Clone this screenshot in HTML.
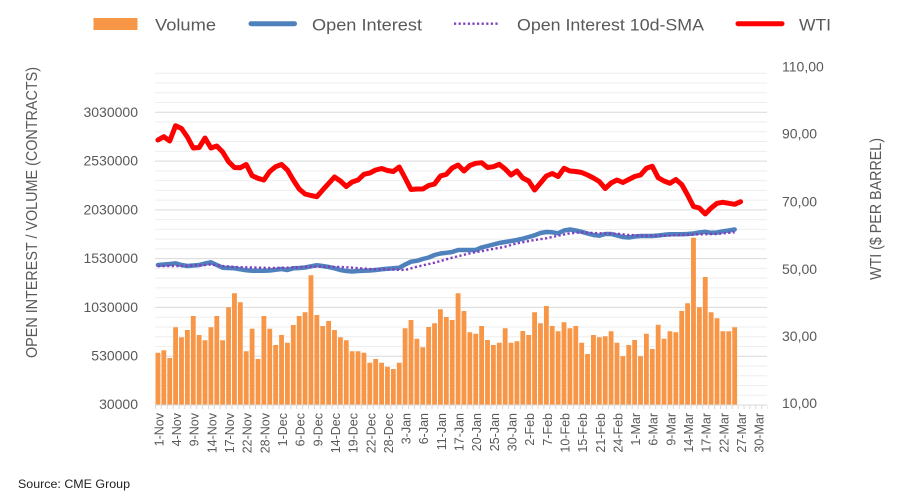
<!DOCTYPE html>
<html>
<head>
<meta charset="utf-8">
<style>
html,body{margin:0;padding:0;background:#fff;}
svg{display:block;font-family:"Liberation Sans",Arial,sans-serif;}
</style>
</head>
<body>
<svg width="906" height="500" viewBox="0 0 906 500" xmlns="http://www.w3.org/2000/svg">
<rect x="0" y="0" width="906" height="500" fill="#fff"/>

<!-- minor gridlines -->
<g stroke="#EEEEEE" stroke-width="1">
<line x1="155" x2="767" y1="395.24" y2="395.24"/>
<line x1="155" x2="767" y1="385.49" y2="385.49"/>
<line x1="155" x2="767" y1="375.73" y2="375.73"/>
<line x1="155" x2="767" y1="365.97" y2="365.97"/>
<line x1="155" x2="767" y1="346.46" y2="346.46"/>
<line x1="155" x2="767" y1="336.70" y2="336.70"/>
<line x1="155" x2="767" y1="326.94" y2="326.94"/>
<line x1="155" x2="767" y1="317.19" y2="317.19"/>
<line x1="155" x2="767" y1="297.67" y2="297.67"/>
<line x1="155" x2="767" y1="287.91" y2="287.91"/>
<line x1="155" x2="767" y1="278.16" y2="278.16"/>
<line x1="155" x2="767" y1="268.40" y2="268.40"/>
<line x1="155" x2="767" y1="248.89" y2="248.89"/>
<line x1="155" x2="767" y1="239.13" y2="239.13"/>
<line x1="155" x2="767" y1="229.37" y2="229.37"/>
<line x1="155" x2="767" y1="219.62" y2="219.62"/>
<line x1="155" x2="767" y1="200.10" y2="200.10"/>
<line x1="155" x2="767" y1="190.34" y2="190.34"/>
<line x1="155" x2="767" y1="180.59" y2="180.59"/>
<line x1="155" x2="767" y1="170.83" y2="170.83"/>
<line x1="155" x2="767" y1="151.32" y2="151.32"/>
<line x1="155" x2="767" y1="141.56" y2="141.56"/>
<line x1="155" x2="767" y1="131.80" y2="131.80"/>
<line x1="155" x2="767" y1="122.04" y2="122.04"/>
<line x1="155" x2="767" y1="102.53" y2="102.53"/>
<line x1="155" x2="767" y1="92.77" y2="92.77"/>
<line x1="155" x2="767" y1="83.02" y2="83.02"/>
<line x1="155" x2="767" y1="73.26" y2="73.26"/>
</g>
<!-- major gridlines -->
<g stroke="#D9D9D9" stroke-width="1">
<line x1="155" x2="767" y1="356.21" y2="356.21"/>
<line x1="155" x2="767" y1="307.43" y2="307.43"/>
<line x1="155" x2="767" y1="258.64" y2="258.64"/>
<line x1="155" x2="767" y1="209.86" y2="209.86"/>
<line x1="155" x2="767" y1="161.07" y2="161.07"/>
<line x1="155" x2="767" y1="112.29" y2="112.29"/>
</g>

<!-- volume bars -->
<g transform="translate(155,0) scale(5.885,1)">
<path fill="#F79646" d="
M0.09 405V352.7h0.82V405z
M1.09 405V350.3h0.82V405z
M2.09 405V358h0.82V405z
M3.09 405V327.3h0.82V405z
M4.09 405V337.3h0.82V405z
M5.09 405V330h0.82V405z
M6.09 405V316h0.82V405z
M7.09 405V335h0.82V405z
M8.09 405V340.3h0.82V405z
M9.09 405V327.3h0.82V405z
M10.09 405V316h0.82V405z
M11.09 405V340.3h0.82V405z
M12.09 405V307.3h0.82V405z
M13.09 405V293.3h0.82V405z
M14.09 405V302.3h0.82V405z
M15.09 405V351.3h0.82V405z
M16.09 405V328.7h0.82V405z
M17.09 405V359h0.82V405z
M18.09 405V316h0.82V405z
M19.09 405V328.7h0.82V405z
M20.09 405V345h0.82V405z
M21.09 405V335h0.82V405z
M22.09 405V342.7h0.82V405z
M23.09 405V325h0.82V405z
M24.09 405V316h0.82V405z
M25.09 405V312.3h0.82V405z
M26.09 405V275.3h0.82V405z
M27.09 405V315h0.82V405z
M28.09 405V326h0.82V405z
M29.09 405V321h0.82V405z
M30.09 405V330h0.82V405z
M31.09 405V337.3h0.82V405z
M32.09 405V340.3h0.82V405z
M33.09 405V351.3h0.82V405z
M34.09 405V351.3h0.82V405z
M35.09 405V352.7h0.82V405z
M36.09 405V362.7h0.82V405z
M37.09 405V359h0.82V405z
M38.09 405V362.7h0.82V405z
M39.09 405V366.7h0.82V405z
M40.09 405V369h0.82V405z
M41.09 405V362.7h0.82V405z
M42.09 405V328.3h0.82V405z
M43.09 405V320h0.82V405z
M44.09 405V338.7h0.82V405z
M45.09 405V347.3h0.82V405z
M46.09 405V327h0.82V405z
M47.09 405V323.3h0.82V405z
M48.09 405V309.3h0.82V405z
M49.09 405V317h0.82V405z
M50.09 405V320h0.82V405z
M51.09 405V293.3h0.82V405z
M52.09 405V311h0.82V405z
M53.09 405V332.3h0.82V405z
M54.09 405V333.7h0.82V405z
M55.09 405V326h0.82V405z
M56.09 405V340h0.82V405z
M57.09 405V345h0.82V405z
M58.09 405V342.7h0.82V405z
M59.09 405V328.3h0.82V405z
M60.09 405V342.7h0.82V405z
M61.09 405V341.3h0.82V405z
M62.09 405V331h0.82V405z
M63.09 405V335h0.82V405z
M64.09 405V312.3h0.82V405z
M65.09 405V323.3h0.82V405z
M66.09 405V306h0.82V405z
M67.09 405V326h0.82V405z
M68.09 405V331.3h0.82V405z
M69.09 405V322.3h0.82V405z
M70.09 405V328.3h0.82V405z
M71.09 405V326h0.82V405z
M72.09 405V342.7h0.82V405z
M73.09 405V354h0.82V405z
M74.09 405V335h0.82V405z
M75.09 405V337.3h0.82V405z
M76.09 405V336.3h0.82V405z
M77.09 405V331.3h0.82V405z
M78.09 405V342.7h0.82V405z
M79.09 405V356.3h0.82V405z
M80.09 405V345h0.82V405z
M81.09 405V340h0.82V405z
M82.09 405V356.3h0.82V405z
M83.09 405V333.7h0.82V405z
M84.09 405V349h0.82V405z
M85.09 405V324.7h0.82V405z
M86.09 405V338.7h0.82V405z
M87.09 405V331.3h0.82V405z
M88.09 405V332.3h0.82V405z
M89.09 405V311h0.82V405z
M90.09 405V303.3h0.82V405z
M91.09 405V237.7h0.82V405z
M92.09 405V307.3h0.82V405z
M93.09 405V277h0.82V405z
M94.09 405V312.3h0.82V405z
M95.09 405V318.3h0.82V405z
M96.09 405V331.3h0.82V405z
M97.09 405V331.3h0.82V405z
M98.09 405V327.3h0.82V405z
"/>
</g>

<!-- x axis line and ticks -->
<defs>
<pattern id="tk" patternUnits="userSpaceOnUse" x="155" y="405" width="5.885" height="5">
<rect x="0" y="0" width="1" height="5" fill="#D9D9D9"/>
</pattern>
</defs>
<rect x="154.5" y="405" width="613" height="4" fill="url(#tk)"/>
<line x1="155" x2="767" y1="405" y2="405" stroke="#D9D9D9" stroke-width="1"/>

<!-- Open interest (blue) -->
<g transform="translate(155,0) scale(5.885,1)">
<polyline fill="none" stroke="#4F81BD" stroke-width="4.5" stroke-linejoin="round" stroke-linecap="round" vector-effect="non-scaling-stroke" points="
0.5,265 1.5,264.5 2.5,264 3.5,263.3 4.5,265 5.5,266 6.5,265.5 7.5,265 8.5,263.5 9.5,262.3
10.5,265 11.5,267.7 12.5,268 13.5,268.3 14.5,269.3 15.5,270.3 16.5,270.7 17.5,270.7 18.5,270.7 19.5,270.5
20.5,269.8 21.5,269 22.5,270 23.5,268.3 24.5,268 25.5,267.5 26.5,266.3 27.5,265.2 28.5,266 29.5,267
30.5,268.3 31.5,270 32.5,271 33.5,271.5 34.5,271 35.5,270.8 36.5,270.5 37.5,270 38.5,269.3 39.5,268.8
40.5,268.3 41.5,267.8 42.5,264.5 43.5,261.7 44.5,260.8 45.5,259 46.5,257.5 47.5,255 48.5,253.5 49.5,252.8
50.5,252 51.5,250 52.5,250 53.5,250 54.5,250 55.5,247.5 56.5,246 57.5,244.5 58.5,243 59.5,242
60.5,241 61.5,240 62.5,238.7 63.5,237 64.5,235.3 65.5,233 66.5,232 67.5,232.3 68.5,233.3 69.5,230.5
70.5,229.5 71.5,230.5 72.5,231.8 73.5,233.5 74.5,235 75.5,235.7 76.5,234 77.5,234 78.5,235.5 79.5,237
80.5,237.5 81.5,236.5 82.5,236 83.5,236 84.5,236 85.5,235.5 86.5,234.8 87.5,234.3 88.5,234.3 89.5,234.3
90.5,234 91.5,233.5 92.5,232.5 93.5,231.8 94.5,232.8 95.5,232.5 96.5,231.3 97.5,230.5 98.5,229.5"/>
</g>

<!-- Open interest 10d-SMA (purple dotted) -->
<polyline fill="none" stroke="#7F3FBF" stroke-width="2.4" stroke-dasharray="2.2 2.4" points="
157.94,266 181.48,266 205.02,265 210.91,264.5 222.68,266 234.45,267 269.76,268 293.30,267.5 316.84,266.5 340.38,267 352.15,267.7
369.80,269 387.46,269.3 405.11,270 416.88,266.7 434.54,262.7 452.19,257.7 469.85,253.3 487.50,250 505.16,246.7 516.93,243.3
534.58,240 546.35,238.3 558.12,235.7 569.89,233.3 581.66,232.3 599.32,233.3 616.97,233.7 628.74,235 646.40,235.7 664.05,235.7
681.71,235 699.36,234.3 717.02,234 734.67,232.3"/>

<!-- WTI (red) -->
<g transform="translate(155,0) scale(5.885,1)">
<polyline fill="none" stroke="#FF0000" stroke-width="5" stroke-linejoin="round" stroke-linecap="round" vector-effect="non-scaling-stroke" points="
0.5,140 1.5,136.7 2.5,141 3.5,125.7 4.5,128.5 5.5,137 6.5,148 7.5,147.5 8.5,138 9.5,148
10.5,146 11.5,152 12.5,161.7 13.5,167.5 14.5,167.7 15.5,164.5 16.5,175.7 17.5,178.3 18.5,180 19.5,171.5
20.5,166.7 21.5,164.5 22.5,170 23.5,180 24.5,189 25.5,194 26.5,195.5 27.5,196.7 28.5,190 29.5,183.5
30.5,177 31.5,181 32.5,186.5 33.5,182 34.5,180 35.5,174.3 36.5,173 37.5,170 38.5,168.5 39.5,170.5
40.5,171.5 41.5,167 42.5,178 43.5,189.5 44.5,189 45.5,189 46.5,185.5 47.5,184 48.5,176 49.5,174.3
50.5,168 51.5,165 52.5,171 53.5,165.5 54.5,163.3 55.5,162.7 56.5,167.5 57.5,166.7 58.5,164.3 59.5,169
60.5,175 61.5,171 62.5,178 63.5,181 64.5,190 65.5,183 66.5,176 67.5,173.5 68.5,176.5 69.5,168.3
70.5,171 71.5,171.5 72.5,172.5 73.5,175 74.5,178 75.5,181.5 76.5,188.5 77.5,183 78.5,180 79.5,182.5
80.5,179.5 81.5,176.5 82.5,175 83.5,168.3 84.5,166.3 85.5,177.7 86.5,181 87.5,183.3 88.5,179.5 89.5,184.5
90.5,195 91.5,206.5 92.5,208 93.5,214 94.5,208 95.5,203.3 96.5,202.3 97.5,203.3 98.5,204.3 99.5,201.7"/>
</g>

<!-- left axis labels -->
<g font-size="14" fill="#595959" text-anchor="end">
<text x="138" y="409">30000</text>
<text x="138" y="360.7">530000</text>
<text x="138" y="311.9">1030000</text>
<text x="138" y="263.1">1530000</text>
<text x="138" y="214.4">2030000</text>
<text x="138" y="165.6">2530000</text>
<text x="138" y="116.8">3030000</text>
</g>

<!-- right axis labels -->
<g font-size="14" fill="#595959" text-anchor="start">
<text x="782" y="408">10,00</text>
<text x="782" y="341">30,00</text>
<text x="782" y="274">50,00</text>
<text x="782" y="206.5">70,00</text>
<text x="782" y="138.5">90,00</text>
<text x="782" y="71.5">110,00</text>
</g>

<!-- axis titles -->
<text transform="translate(37,212.5) rotate(-90)" text-anchor="middle" font-size="16" fill="#595959" textLength="291" lengthAdjust="spacingAndGlyphs">OPEN INTEREST / VOLUME (CONTRACTS)</text>
<text transform="translate(881,209) rotate(-90)" text-anchor="middle" font-size="16" fill="#595959" textLength="142" lengthAdjust="spacingAndGlyphs">WTI ($ PER BARREL)</text>

<!-- x labels -->
<g font-size="12.5" fill="#595959" text-anchor="end">
<text transform="translate(163.4,413) rotate(-90)">1-Nov</text>
<text transform="translate(181.1,413) rotate(-90)">4-Nov</text>
<text transform="translate(198.7,413) rotate(-90)">9-Nov</text>
<text transform="translate(216.4,413) rotate(-90)">14-Nov</text>
<text transform="translate(234.0,413) rotate(-90)">17-Nov</text>
<text transform="translate(251.7,413) rotate(-90)">22-Nov</text>
<text transform="translate(269.3,413) rotate(-90)">28-Nov</text>
<text transform="translate(287.0,413) rotate(-90)">1-Dec</text>
<text transform="translate(304.6,413) rotate(-90)">6-Dec</text>
<text transform="translate(322.3,413) rotate(-90)">9-Dec</text>
<text transform="translate(340.0,413) rotate(-90)">14-Dec</text>
<text transform="translate(357.6,413) rotate(-90)">19-Dec</text>
<text transform="translate(375.3,413) rotate(-90)">22-Dec</text>
<text transform="translate(392.9,413) rotate(-90)">28-Dec</text>
<text transform="translate(410.6,413) rotate(-90)">3-Jan</text>
<text transform="translate(428.2,413) rotate(-90)">6-Jan</text>
<text transform="translate(445.9,413) rotate(-90)">11-Jan</text>
<text transform="translate(463.5,413) rotate(-90)">17-Jan</text>
<text transform="translate(481.2,413) rotate(-90)">20-Jan</text>
<text transform="translate(498.8,413) rotate(-90)">25-Jan</text>
<text transform="translate(516.5,413) rotate(-90)">30-Jan</text>
<text transform="translate(534.2,413) rotate(-90)">2-Feb</text>
<text transform="translate(551.8,413) rotate(-90)">7-Feb</text>
<text transform="translate(569.5,413) rotate(-90)">10-Feb</text>
<text transform="translate(587.1,413) rotate(-90)">15-Feb</text>
<text transform="translate(604.8,413) rotate(-90)">21-Feb</text>
<text transform="translate(622.4,413) rotate(-90)">24-Feb</text>
<text transform="translate(640.1,413) rotate(-90)">1-Mar</text>
<text transform="translate(657.7,413) rotate(-90)">6-Mar</text>
<text transform="translate(675.4,413) rotate(-90)">9-Mar</text>
<text transform="translate(693.1,413) rotate(-90)">14-Mar</text>
<text transform="translate(710.7,413) rotate(-90)">17-Mar</text>
<text transform="translate(728.4,413) rotate(-90)">22-Mar</text>
<text transform="translate(746.0,413) rotate(-90)">27-Mar</text>
<text transform="translate(763.7,413) rotate(-90)">30-Mar</text>
</g>

<!-- legend -->
<rect x="93.5" y="18" width="44" height="12" fill="#F79646"/>
<text x="155" y="30.5" font-size="17" fill="#595959" textLength="61" lengthAdjust="spacingAndGlyphs">Volume</text>
<line x1="251" x2="294.5" y1="23.7" y2="23.7" stroke="#4F81BD" stroke-width="5" stroke-linecap="round"/>
<text x="312" y="30.5" font-size="17" fill="#595959" textLength="110" lengthAdjust="spacingAndGlyphs">Open Interest</text>
<line x1="454" x2="500" y1="23.7" y2="23.7" stroke="#7F3FBF" stroke-width="2.4" stroke-dasharray="2.2 2.4"/>
<text x="517" y="30.5" font-size="17" fill="#595959" textLength="187" lengthAdjust="spacingAndGlyphs">Open Interest 10d-SMA</text>
<line x1="738" x2="782" y1="23.7" y2="23.7" stroke="#FF0000" stroke-width="5" stroke-linecap="round"/>
<text x="799" y="30.5" font-size="17" fill="#595959" textLength="32" lengthAdjust="spacingAndGlyphs">WTI</text>

<!-- source -->
<text x="18" y="488" font-size="12" fill="#222" textLength="112" lengthAdjust="spacingAndGlyphs">Source: CME Group</text>
</svg>
</body>
</html>
